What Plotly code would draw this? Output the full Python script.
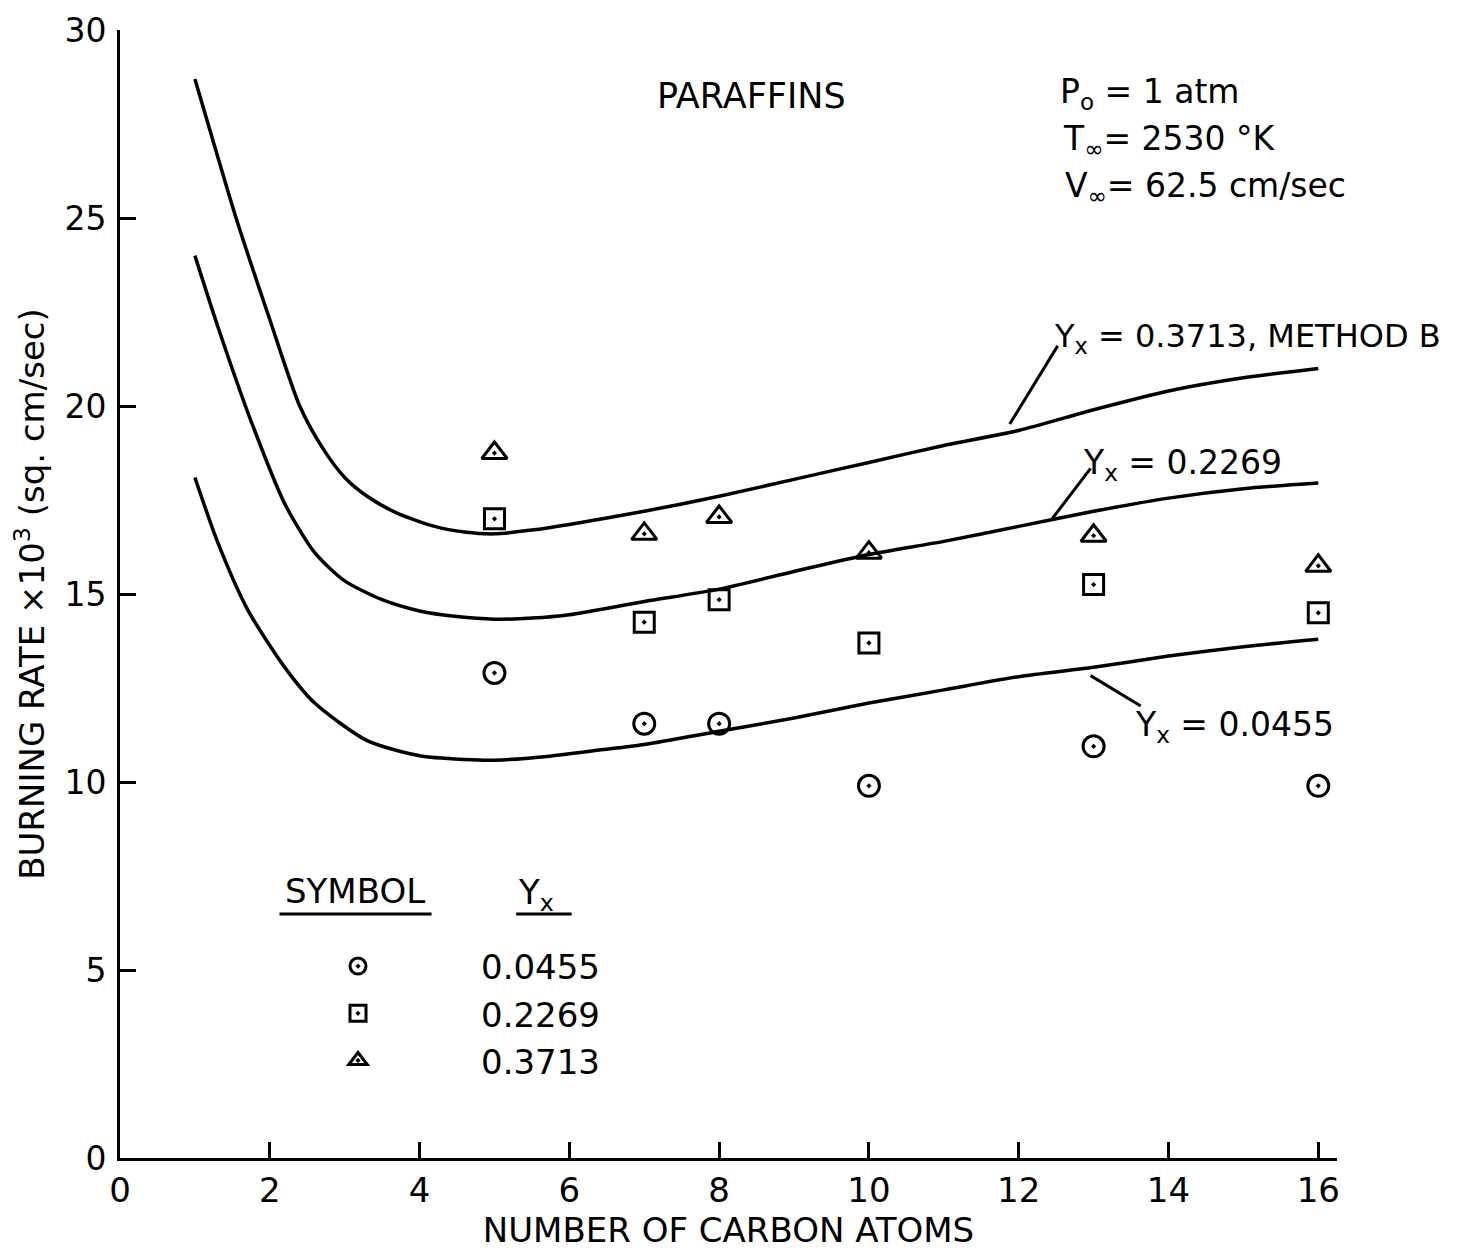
import plotly.graph_objects as go

# ---- data ----
carbon_atoms = [5, 7, 8, 10, 13, 16]
pts_0455 = [12.9, 11.55, 11.55, 9.9, 10.95, 9.9]
pts_2269 = [17.0, 14.25, 14.85, 13.7, 15.25, 14.5]
pts_3713 = [18.75, 16.6, 17.05, 16.1, 16.55, 15.75]

curve_3713_x = [1.0, 1.25, 1.55, 2.0, 2.4, 2.7, 3.0, 3.3, 3.7, 4.2, 4.6, 5.0, 5.5, 6.0, 7.0, 8.0, 9.0, 10.0, 11.0, 12.0, 13.0, 14.0, 15.0, 16.0]
curve_3713_y = [28.7, 27.0, 25.0, 22.3, 20.0, 18.9, 18.1, 17.6, 17.15, 16.8, 16.65, 16.6, 16.7, 16.85, 17.2, 17.6, 18.05, 18.5, 18.95, 19.35, 19.9, 20.4, 20.75, 21.0]

curve_2269_x = [1.0, 1.3, 1.75, 2.2, 2.6, 3.0, 3.5, 4.0, 4.5, 5.0, 5.5, 6.0, 7.0, 8.0, 9.0, 10.0, 11.0, 12.0, 13.0, 14.0, 15.0, 16.0]
curve_2269_y = [24.0, 22.15, 19.6, 17.4, 16.1, 15.35, 14.85, 14.55, 14.4, 14.33, 14.36, 14.45, 14.8, 15.13, 15.6, 16.05, 16.4, 16.8, 17.2, 17.55, 17.8, 17.95]

curve_0455_x = [1.0, 1.3, 1.7, 2.2, 2.6, 3.3, 4.0, 4.6, 5.0, 5.7, 6.4, 7.0, 8.0, 9.0, 10.0, 11.0, 12.0, 13.0, 14.0, 15.0, 16.0]
curve_0455_y = [18.1, 16.4, 14.6, 13.05, 12.1, 11.1, 10.7, 10.6, 10.58, 10.68, 10.85, 11.0, 11.35, 11.7, 12.1, 12.45, 12.8, 13.05, 13.35, 13.6, 13.8]

legend_labels = ["0.0455", "0.2269", "0.3713"]
x_ticks = [0, 2, 4, 6, 8, 10, 12, 14, 16]
y_ticks = [0, 5, 10, 15, 20, 25, 30]

FONT = "DejaVu Sans"
BLACK = "black"

fig = go.Figure()

for cx, cy in [(curve_3713_x, curve_3713_y), (curve_2269_x, curve_2269_y), (curve_0455_x, curve_0455_y)]:
    fig.add_trace(go.Scatter(x=cx, y=cy, mode="lines", showlegend=False, hoverinfo="skip",
                             line=dict(color=BLACK, width=3.5, shape="spline", smoothing=0.7)))

symbols = ["circle-open-dot", "square-open-dot", "triangle-up-open-dot"]
sizes = [21, 20, 22]
for i, (vals, lab) in enumerate(zip([pts_0455, pts_2269, pts_3713], legend_labels)):
    fig.add_trace(go.Scatter(x=carbon_atoms, y=vals, mode="markers", name=lab,
                             legendgroup=lab,
                             marker=dict(symbol=symbols[i], size=sizes[i], color=BLACK,
                                         line=dict(color=BLACK, width=3))))

def txt(x, y, s, size=33, xanchor="left"):
    fig.add_annotation(x=x, y=y, xref="x", yref="y", text=s, showarrow=False,
                       xanchor=xanchor, yanchor="middle",
                       font=dict(family=FONT, size=size, color=BLACK))

txt(8.43, 28.25, "PARAFFINS", size=35, xanchor="center")
txt(12.53, 28.3, "P<sub>o</sub> = 1 atm")
txt(12.56, 27.05, "T<sub>∞</sub>= 2530 °K")
txt(12.59, 25.8, "V<sub>∞</sub>= 62.5 cm/sec")
txt(12.45, 21.8, "Y<sub>x</sub> = 0.3713, METHOD B", size=32)
txt(12.83, 18.45, "Y<sub>x</sub> = 0.2269")
txt(13.53, 11.48, "Y<sub>x</sub> = 0.0455")
txt(2.17, 7.1, "SYMBOL", size=34)
txt(5.29, 7.0, "Y<sub>x</sub>", size=34)

def seg(x0, y0, x1, y1, w=3):
    fig.add_shape(type="line", xref="x", yref="y", x0=x0, y0=y0, x1=x1, y1=y1,
                  line=dict(color=BLACK, width=w))

seg(12.52, 21.6, 11.88, 19.52)
seg(12.96, 18.34, 12.43, 16.96)
seg(12.96, 12.83, 13.63, 12.02)
seg(2.13, 6.49, 4.16, 6.49)
seg(5.29, 6.49, 6.03, 6.49)

fig.update_layout(
    width=1459, height=1248,
    margin=dict(l=112, r=130, t=22, b=98),
    paper_bgcolor="white", plot_bgcolor="white",
    font=dict(family=FONT, size=33, color=BLACK),
    legend=dict(x=0.0945, y=0.1955, xanchor="left", yanchor="top",
                font=dict(family=FONT, size=34, color=BLACK),
                itemwidth=236, tracegroupgap=0, traceorder="grouped",
                bgcolor="rgba(0,0,0,0)"),
    xaxis=dict(range=[0, 16.25], tickvals=x_ticks, ticks="inside", ticklen=16, tickwidth=2.5,
               tickcolor=BLACK, showline=True, linecolor=BLACK, linewidth=3, showgrid=False,
               zeroline=False, tickfont=dict(size=34), automargin=False, ticklabeloverflow="allow",
               title=dict(text="NUMBER OF CARBON ATOMS", font=dict(size=34), standoff=6)),
    yaxis=dict(range=[0, 30.001], tickvals=y_ticks, ticks="inside", ticklen=16, tickwidth=2.5,
               tickcolor=BLACK, showline=True, linecolor=BLACK, linewidth=3, showgrid=False,
               zeroline=False, tickfont=dict(size=33), automargin=False, ticklabelstandoff=4,
               ticklabeloverflow="allow",
               title=dict(text="BURNING RATE ×10<sup>3</sup> (sq. cm/sec)", font=dict(size=34), standoff=12)),
)

fig.write_html("out.html")
